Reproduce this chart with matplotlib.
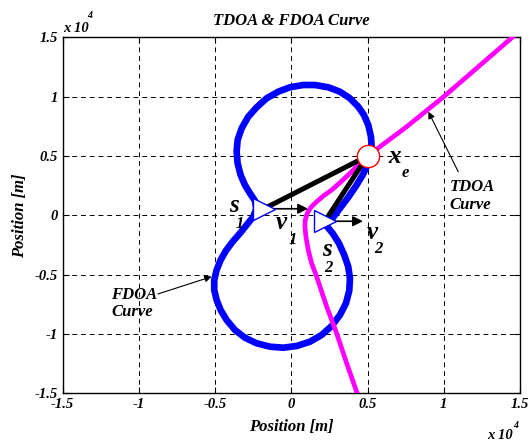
import matplotlib
matplotlib.use("Agg")
import matplotlib.pyplot as plt

# ── Data (metres) ───────────────────────────────────────────────────────────
emitter = (5000, 5000)
sensor1 = (-1800, 550)
sensor2 = (2200, -500)
vel1_end = (1100, 550)
vel2_end = (4700, -500)

# FDOA curve (closed loop through the emitter and both sensors)
fdoa_x = [5000, 5269, 5223, 5046, 4764, 4390, 3845, 3189, 2421, 1549,
          781, -92, -860, -1621, -2277, -2828, -3261, -3524, -3589, -3524,
          -3327, -3045, -2717, -2389, -2300, -2500, -2933, -3373, -3852, -4292,
          -4639, -4902, -5059, -5059, -4902, -4639, -4246, -3701, -3045, -2277,
          -1404, -532, 348, 1221, 1988, 2644, 3189, 3583, 3799, 3845,
          3734, 3471, 3124, 2710, 2316, 2402, 2750, 3189, 3734, 4239,
          4679, 4941, 5000]
fdoa_y = [5000, 5781, 6624, 7610, 8452, 9152, 9860, 10416, 10787, 10980,
          10980, 10787, 10416, 9860, 9101, 8309, 7331, 6346, 5360, 4382,
          3396, 2553, 1854, 1230, 530, -118, -817, -1517, -2225, -2983,
          -3767, -4610, -5452, -6295, -7138, -7980, -8823, -9666, -10315, -10787,
          -11073, -11157, -11014, -10652, -10087, -9329, -8402, -7416, -6354, -5309,
          -4331, -3346, -2360, -1517, -902, -565, -169, 590, 1517, 2469,
          3396, 4096, 5000]

# TDOA curve (hyperbola branch through the emitter)
tdoa_x = [14500, 10000, 7570, 5810, 5000, 4502, 3845, 3189, 2644, 2093,
          1660, 1286, 1043, 912, 892, 958, 1109, 1332, 1660, 2320,
          2970, 3630, 4320]
tdoa_y = [15000, 10000, 7470, 5780, 5000, 4382, 3539, 2747, 2132, 1626,
          1146, 674, 169, -396, -961, -1803, -2924, -4045, -5174, -7700,
          -9940, -12470, -15000]

ticks = [-15000, -10000, -5000, 0, 5000, 10000, 15000]
tick_labels = ["-1.5", "-1", "-0.5", "0", "0.5", "1", "1.5"]

# symbol labels: (text, subscript, text position, subscript position)
symbols = [
    ("s", "1", (-3750, 800), (-3350, -720)),
    ("v", "1", (-640, -610), (70, -2080)),
    ("s", "2", (2340, -2860), (2420, -4450)),
    ("v", "2", (5320, -1490), (5700, -2880)),
    ("x", "e", (6800, 4940), (7450, 3600)),
]

# curve callouts: (label, text position, arrow start, arrow tip)
callouts = [
    ("TDOA\nCurve", (10400, 1630), (10950, 3670), (8990, 8730)),
    ("FDOA\nCurve", (-11800, -7430), (-8750, -6630), (-5230, -5170)),
]

# ── Style ───────────────────────────────────────────────────────────────────
plt.rcParams.update({
    "font.family": "Liberation Serif",
    "font.weight": "bold",
    "font.style": "italic",
    "axes.titleweight": "bold",
    "axes.labelweight": "bold",
    "axes.linewidth": 1.0,
    "xtick.direction": "in",
    "ytick.direction": "in",
    "xtick.top": True,
    "ytick.right": True,
    "xtick.major.size": 4.3,
    "ytick.major.size": 4.3,
})

fig = plt.figure(figsize=(5.3, 4.42), dpi=100)
ax = fig.add_axes([0.1183, 0.1102, 0.8628, 0.8054])

ax.plot(fdoa_x, fdoa_y, color="#0000FF", lw=4.8, zorder=2, solid_joinstyle="round")
ax.plot(tdoa_x, tdoa_y, color="#FF00FF", lw=3.4, zorder=3, solid_joinstyle="round")

for s in (sensor1, sensor2):
    ax.plot([s[0], emitter[0]], [s[1], emitter[1]], color="k", lw=3.6, zorder=4)

for start, end in ((sensor1, vel1_end), (sensor2, vel2_end)):
    ax.annotate("", xy=end, xytext=start, zorder=5,
                arrowprops=dict(arrowstyle="-|>", color="k", lw=1.2,
                                mutation_scale=15, shrinkA=0, shrinkB=0))

for s in (sensor1, sensor2):
    ax.plot(*s, marker=">", ms=16.5, mfc="w", mec="#0000FF", mew=1.0,
            linestyle="none", zorder=6)
ax.plot(*emitter, marker="o", ms=16, mfc="w", mec="#FF0000", mew=1.0,
        linestyle="none", zorder=6)

for main, sub, p_main, p_sub in symbols:
    ax.text(*p_main, main, fontsize=18, ha="center", va="center", zorder=7)
    ax.text(*p_sub, sub, fontsize=12, ha="center", va="center", zorder=7)

for label, p_text, p_start, p_tip in callouts:
    ax.text(*p_text, label, fontsize=12, ha="left", va="center",
            linespacing=1.1, zorder=7)
    ax.annotate("", xy=p_tip, xytext=p_start, zorder=7,
                arrowprops=dict(arrowstyle="-|>", color="k", lw=0.8,
                                mutation_scale=10, shrinkA=0, shrinkB=0))

ax.set_xlim(-15000, 15000)
ax.set_ylim(-15000, 15000)
ax.set_xticks(ticks)
ax.set_xticklabels(tick_labels, fontsize=10.5)
ax.set_yticks(ticks)
ax.set_yticklabels(tick_labels, fontsize=10.5)
ax.grid(True, color="k", linestyle=(0, (5, 4)), linewidth=0.7)
ax.set_axisbelow(True)

ax.set_title("TDOA & FDOA Curve", fontsize=12, pad=9)
ax.set_xlabel("Position [m]", fontsize=12, labelpad=6)
ax.set_ylabel("Position [m]", fontsize=12, labelpad=5)

# exponent labels
ax.text(0.0, 1.016, "x 10", transform=ax.transAxes, fontsize=10.5,
        ha="left", va="baseline")
ax.text(0.054, 1.053, "4", transform=ax.transAxes, fontsize=7,
        ha="left", va="baseline")
ax.text(0.985, -0.127, "x 10", transform=ax.transAxes, fontsize=10.5,
        ha="right", va="baseline")
ax.text(0.985, -0.097, "4", transform=ax.transAxes, fontsize=7,
        ha="left", va="baseline")

fig.savefig("out.png", dpi=100)
